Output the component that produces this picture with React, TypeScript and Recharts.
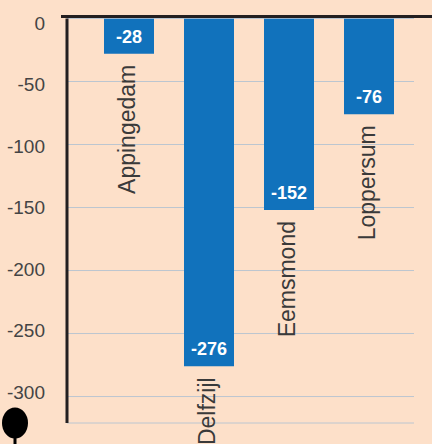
import React from 'react';
import { BarChart, Bar, XAxis, YAxis, CartesianGrid, ReferenceLine, LabelList } from 'recharts';

const municipalities = ['Appingedam', 'Delfzijl', 'Eemsmond', 'Loppersum'];
const changes = [-28, -276, -152, -76];
const yTicks = [0, -50, -100, -150, -200, -250, -300];

const data = municipalities.map((name, i) => ({ name, value: changes[i] }));

const BG = '#fde0c9';
const BLUE = '#1172bc';
const INK = '#231f20';
const FONT = '"Liberation Sans", Arial, Helvetica, sans-serif';

function ValueLabel(props: any) {
  const { x, y, width, height, value } = props;
  const bottom = Math.max(y, y + height);
  return (
    <text x={x + width / 2} y={bottom - 17} textAnchor="middle" dominantBaseline="central"
      fill="#ffffff" fontWeight="bold" fontSize={18} fontFamily={FONT}>
      {value}
    </text>
  );
}

function NameLabel(props: any) {
  const { x, y, width, height, value } = props;
  const bottom = Math.max(y, y + height);
  const cx = x + width / 2 + 6;
  const ty = bottom + 11;
  return (
    <text x={cx} y={ty} transform={`rotate(-90 ${cx} ${ty})`} textAnchor="end"
      fill="#3a3a3a" fontSize={23} fontFamily={FONT}>
      {value}
    </text>
  );
}

function YTick(props: any) {
  const { x, y, payload, index } = props;
  const dy = 4.5 - (index ?? 0) * 1.5;
  return (
    <text x={x} y={y + dy} textAnchor="end" dominantBaseline="central" fill="#444444" fontSize={19} fontFamily={FONT}>
      {payload.value}
    </text>
  );
}

function TopLine(props: any) {
  const { x1, y1, x2 } = props;
  return <line x1={x1 - 6} y1={y1 - 2} x2={x2 + 18} y2={y1 - 2} stroke={INK} strokeWidth={3} />;
}

export default function App() {
  return (
    <div style={{ position: 'absolute', left: 0, top: 0, width: 432, height: 444, background: BG, overflow: 'hidden' }}>
      <BarChart width={432} height={444} data={data} margin={{ top: 18.5, right: 18, bottom: 21, left: 0 }}>
        <CartesianGrid vertical={false} stroke="#bcc6d0" strokeWidth={1} />
        <XAxis dataKey="name" hide padding={{ left: 22, right: 5 }} />
        <YAxis width={67} domain={[-321, 0]} ticks={yTicks} allowDataOverflow
          axisLine={{ stroke: INK, strokeWidth: 3 }} tickLine={false} tickSize={0} tickMargin={22} tick={<YTick />} />
        <Bar dataKey="value" fill={BLUE} barSize={50} isAnimationActive={false}>
          <LabelList dataKey="value" content={<ValueLabel />} />
          <LabelList dataKey="name" content={<NameLabel />} />
        </Bar>
        <ReferenceLine y={0} shape={<TopLine />} />
      </BarChart>
      <svg width={40} height={50} style={{ position: 'absolute', left: 0, top: 400 }}>
        <ellipse cx={15} cy={23} rx={13} ry={15.5} fill="#000" />
        <rect x={13.5} y={35} width={3} height={15} fill="#000" />
      </svg>
    </div>
  );
}
